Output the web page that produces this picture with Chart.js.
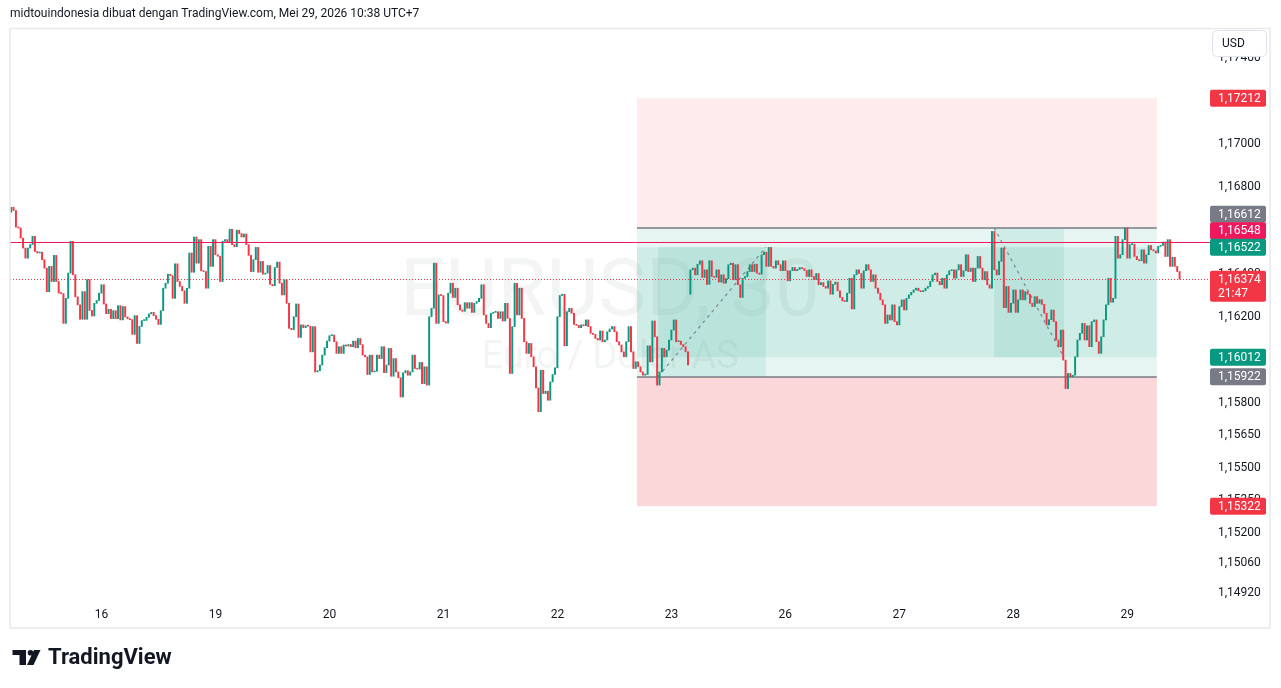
<!DOCTYPE html>
<html>
<head>
<meta charset="utf-8">
<script src="https://cdn.jsdelivr.net/npm/chart.js@4.4.1/dist/chart.umd.min.js"></script>
<style>
  html, body { margin: 0; padding: 0; background: #fff; }
  canvas { display: block; }
</style>
</head>
<body>
<canvas id="myChart" width="1281" height="688"></canvas>
<script>
// EURUSD 30m closes, one array per trading day (open of each candle = previous close)
const sessionOpens = [1.16684, 1.16304];

const fri15 = [1.16707, 1.16692, 1.16615, 1.16611, 1.16564, 1.16518, 1.16471, 1.16518, 1.16534, 1.16572,
  1.16502, 1.16495, 1.16499, 1.16464, 1.16425, 1.16316, 1.16433, 1.16363, 1.16484, 1.16363,
  1.16309, 1.16307, 1.16169, 1.16285, 1.16402, 1.16549, 1.16394, 1.16292, 1.16255, 1.16188,
  1.16316, 1.16188, 1.16372, 1.16229, 1.16203, 1.16262, 1.16275, 1.16309];
const sat16mon18 = [1.16348, 1.16259, 1.16214, 1.16234, 1.16191, 1.16228, 1.16191, 1.16251, 1.16185, 1.16247,
  1.16199, 1.16190, 1.16186, 1.16118, 1.16205, 1.16076, 1.16155, 1.16182, 1.16183, 1.16197,
  1.16213, 1.16220, 1.16205, 1.16188, 1.16164, 1.16228, 1.16332, 1.16355, 1.16397, 1.16390,
  1.16285, 1.16445, 1.16363, 1.16340, 1.16320, 1.16262, 1.16332, 1.16495, 1.16406, 1.16569,
  1.16448, 1.16557, 1.16413, 1.16409, 1.16332, 1.16526, 1.16433, 1.16557];
const tue19 = [1.16487, 1.16480, 1.16363, 1.16549, 1.16557, 1.16545, 1.16605, 1.16534, 1.16524, 1.16601,
  1.16585, 1.16569, 1.16583, 1.16534, 1.16484, 1.16409, 1.16464, 1.16521, 1.16406, 1.16456,
  1.16397, 1.16402, 1.16437, 1.16350, 1.16343, 1.16428, 1.16453, 1.16355, 1.16301, 1.16371,
  1.16262, 1.16146, 1.16140, 1.16200, 1.16259, 1.16104, 1.16162, 1.16149, 1.16158, 1.16156,
  1.16037, 1.16154, 1.15944, 1.15950, 1.15976, 1.16022, 1.16056, 1.16087];
const wed20 = [1.16112, 1.16115, 1.16084, 1.16030, 1.16061, 1.16030, 1.16069, 1.16064, 1.16071, 1.16061,
  1.16087, 1.16056, 1.16099, 1.16071, 1.16022, 1.16014, 1.15932, 1.16022, 1.15944, 1.15947,
  1.16022, 1.16006, 1.16061, 1.15941, 1.15976, 1.16053, 1.15924, 1.16006, 1.15944, 1.15917,
  1.15828, 1.15940, 1.15950, 1.15929, 1.15944, 1.16022, 1.15960, 1.15957, 1.15988, 1.15890,
  1.15968, 1.15883, 1.16200, 1.16239, 1.16448, 1.16169, 1.16301, 1.16298];
const thu21 = [1.16177, 1.16170, 1.16309, 1.16355, 1.16289, 1.16332, 1.16255, 1.16231, 1.16225, 1.16265,
  1.16239, 1.16265, 1.16220, 1.16262, 1.16270, 1.16285, 1.16348, 1.16208, 1.16169, 1.16149,
  1.16216, 1.16220, 1.16223, 1.16192, 1.16223, 1.16180, 1.16262, 1.16192, 1.15937, 1.16154,
  1.16355, 1.16208, 1.16332, 1.16192, 1.16084, 1.16030, 1.16076, 1.16014, 1.15968, 1.15870,
  1.15760, 1.15952, 1.15844, 1.15855, 1.15813, 1.15898, 1.15932, 1.15963];
const fri22 = [1.16200, 1.16298, 1.16304, 1.16065, 1.16223, 1.16239, 1.16216, 1.16164, 1.16160, 1.16149,
  1.16162, 1.16158, 1.16185, 1.16154, 1.16123, 1.16118, 1.16099, 1.16092, 1.16134, 1.16084,
  1.16092, 1.16130, 1.16143, 1.16154, 1.16130, 1.16084, 1.16069, 1.16037, 1.16014, 1.16084,
  1.16154, 1.16037, 1.15960, 1.15991, 1.15968, 1.15944, 1.15929, 1.15932, 1.16065, 1.15991,
  1.16180, 1.16107, 1.15883, 1.15944, 1.16053, 1.16014, 1.16045, 1.16092, 1.16138, 1.16185,
  1.16084, 1.16087, 1.16071, 1.16061, 1.16037, 1.15976];
const mon25 = [1.16417, 1.16425, 1.16394, 1.16443, 1.16459, 1.16382, 1.16417, 1.16350, 1.16459, 1.16386,
  1.16382, 1.16417, 1.16360, 1.16394, 1.16355, 1.16376, 1.16441, 1.16448, 1.16371, 1.16441,
  1.16348, 1.16289, 1.16378, 1.16386, 1.16409, 1.16441, 1.16409, 1.16443, 1.16402, 1.16397,
  1.16487, 1.16499, 1.16433, 1.16521, 1.16433, 1.16425, 1.16459, 1.16441, 1.16413, 1.16459];
const tue26 = [1.16413, 1.16366, 1.16413, 1.16428, 1.16413, 1.16419, 1.16428, 1.16423, 1.16414, 1.16386,
  1.16417, 1.16386, 1.16372, 1.16400, 1.16348, 1.16358, 1.16340, 1.16332, 1.16366, 1.16304,
  1.16350, 1.16360, 1.16320, 1.16289, 1.16273, 1.16270, 1.16309, 1.16378, 1.16236, 1.16394,
  1.16417, 1.16400, 1.16332, 1.16413, 1.16441, 1.16417, 1.16363, 1.16394, 1.16332, 1.16309,
  1.16278, 1.16255, 1.16169, 1.16208, 1.16185, 1.16255, 1.16177, 1.16162];
const wed27 = [1.16247, 1.16278, 1.16231, 1.16285, 1.16301, 1.16313, 1.16324, 1.16332, 1.16320, 1.16316,
  1.16320, 1.16332, 1.16340, 1.16363, 1.16394, 1.16402, 1.16363, 1.16348, 1.16378, 1.16332,
  1.16394, 1.16413, 1.16417, 1.16378, 1.16417, 1.16441, 1.16386, 1.16413, 1.16487, 1.16409,
  1.16425, 1.16363, 1.16425, 1.16479, 1.16425, 1.16371, 1.16409, 1.16348, 1.16332, 1.16595,
  1.16417, 1.16394, 1.16456, 1.16518, 1.16242, 1.16340, 1.16220, 1.16262];
const thu28 = [1.16324, 1.16220, 1.16278, 1.16324, 1.16278, 1.16316, 1.16304, 1.16262, 1.16247, 1.16293,
  1.16262, 1.16279, 1.16257, 1.16216, 1.16162, 1.16186, 1.16231, 1.16177, 1.16092, 1.16061,
  1.16138, 1.15999, 1.15867, 1.15937, 1.15921, 1.15929, 1.16014, 1.16092, 1.16123, 1.16169,
  1.16092, 1.16158, 1.16061, 1.16177, 1.16185, 1.16084, 1.16030, 1.16107, 1.16185, 1.16255,
  1.16378, 1.16267, 1.16285, 1.16572, 1.16471, 1.16487, 1.16557, 1.16611];
const fri29 = [1.16471, 1.16534, 1.16536, 1.16479, 1.16464, 1.16459, 1.16510, 1.16448, 1.16487, 1.16530,
  1.16510, 1.16505, 1.16495, 1.16526, 1.16530, 1.16546, 1.16479, 1.16557, 1.16433, 1.16475,
  1.16433, 1.16409, 1.16374];

const sessions = [
  [fri15, sat16mon18, tue19, wed20, thu21, fri22],
  [mon25, tue26, wed27, thu28, fri29]
];

// time axis: bar index where each labelled day begins
const dayLabels = ['16', '19', '20', '21', '22', '23', '26', '27', '28', '29'];
const dayStartIdx = [38, 86, 134, 182, 230, 278, 326, 374, 422, 470];

const priceTicks = [1.174, 1.172, 1.170, 1.168, 1.166, 1.164, 1.162, 1.160, 1.158, 1.1565, 1.155, 1.1535, 1.152, 1.1506, 1.1492];

// drawings: horizontal line, two overlapping position tools
const hLine = 1.16548;
const lastPrice = 1.16374;
const countdown = '21:47';
const zoneTop = 1.17212;
const upperEntry = 1.16612;
const innerTop = 1.16522;
const innerBottom = 1.16012;
const lowerEntry = 1.15922;
const zoneBottom = 1.15322;
const tradeSpan = [263.5, 482.4];   // bar indexes
const leftLeg = [272.4, 317.8];
const rightLeg = [413.9, 443.3];

const FONT = "Roboto, 'Liberation Sans', sans-serif";
const fmt = v => v.toFixed(5).replace('.', ',');

const candles = [];
let idx = 0;
sessions.forEach((days, s) => {
  let prev = sessionOpens[s];
  days.flat().forEach(c => {
    candles.push({ x: idx++, y: [prev, c] });
    prev = c;
  });
});

const overlay = {
  id: 'overlay',
  beforeDatasetsDraw(chart) {
    const { ctx, chartArea: a, scales: { x, y } } = chart;
    ctx.save();
    ctx.beginPath();
    ctx.rect(a.left, a.top, a.width, a.height);
    ctx.clip();

    // watermark
    const cx = (a.left + a.right) / 2, cy = (a.top + a.bottom) / 2;
    ctx.fillStyle = 'rgba(42,46,57,0.055)';
    ctx.textAlign = 'center';
    ctx.textBaseline = 'alphabetic';
    ctx.font = '80px ' + FONT;
    ctx.fillText('EURUSD, 30', cx + 5, cy + 1);
    ctx.font = '38px ' + FONT;
    ctx.fillText('Euro / Dolar AS', cx + 5, cy + 54);

    const box = (i0, i1, p0, p1, color) => {
      const X0 = x.getPixelForValue(i0), X1 = x.getPixelForValue(i1);
      const Y0 = y.getPixelForValue(p0), Y1 = y.getPixelForValue(p1);
      ctx.fillStyle = color;
      ctx.fillRect(X0, Y0, X1 - X0, Y1 - Y0);
    };
    const teal = 'rgba(8,153,129,0.1)';
    box(tradeSpan[0], tradeSpan[1], zoneTop, upperEntry, 'rgba(242,54,69,0.1)');
    box(tradeSpan[0], tradeSpan[1], lowerEntry, zoneBottom, 'rgba(242,54,69,0.2)');
    box(tradeSpan[0], tradeSpan[1], upperEntry, lowerEntry, teal);
    box(tradeSpan[0], tradeSpan[1], innerTop, innerBottom, teal);
    box(leftLeg[0], leftLeg[1], innerTop, lowerEntry, teal);
    box(rightLeg[0], rightLeg[1], upperEntry, innerBottom, teal);

    // entry lines
    ctx.strokeStyle = '#787b86';
    ctx.lineWidth = 1.5;
    [upperEntry, lowerEntry].forEach(p => {
      const Y = Math.round(y.getPixelForValue(p));
      ctx.beginPath();
      ctx.moveTo(x.getPixelForValue(tradeSpan[0]), Y);
      ctx.lineTo(x.getPixelForValue(tradeSpan[1]), Y);
      ctx.stroke();
    });

    // dashed legs
    ctx.setLineDash([3, 4]);
    ctx.strokeStyle = 'rgba(120,123,134,0.85)';
    ctx.lineWidth = 1.3;
    ctx.beginPath();
    ctx.moveTo(x.getPixelForValue(leftLeg[0]), y.getPixelForValue(lowerEntry));
    ctx.lineTo(x.getPixelForValue(leftLeg[1]), y.getPixelForValue(innerTop));
    ctx.moveTo(x.getPixelForValue(rightLeg[0]), y.getPixelForValue(upperEntry));
    ctx.lineTo(x.getPixelForValue(rightLeg[1]), y.getPixelForValue(innerBottom));
    ctx.stroke();
    ctx.restore();
  },
  afterDatasetsDraw(chart) {
    const { ctx, chartArea: a, scales: { y } } = chart;
    ctx.save();
    let Y = Math.round(y.getPixelForValue(hLine)) + 0.5;
    ctx.strokeStyle = '#f0185c';
    ctx.lineWidth = 1;
    ctx.beginPath();
    ctx.moveTo(a.left, Y);
    ctx.lineTo(a.right + 10, Y);
    ctx.stroke();

    Y = Math.round(y.getPixelForValue(lastPrice)) + 0.5;
    ctx.strokeStyle = '#f23645';
    ctx.setLineDash([1, 2]);
    ctx.beginPath();
    ctx.moveTo(a.left, Y);
    ctx.lineTo(a.right + 10, Y);
    ctx.stroke();
    ctx.restore();
  },
  afterDraw(chart) {
    const { ctx, chartArea: a, scales: { y } } = chart;
    ctx.save();

    // pane border
    ctx.strokeStyle = '#e9e9ec';
    ctx.lineWidth = 1.5;
    ctx.strokeRect(10, 28.5, 1260, 599.5);

    // price tags on the axis
    const H = 17;
    const tags = [
      { p: zoneTop, color: '#f23645' },
      { p: upperEntry, color: '#787b86' },
      { p: hLine, color: '#f0185c' },
      { p: innerTop, color: '#089981' },
      { p: lastPrice, color: '#f23645', sub: countdown },
      { p: innerBottom, color: '#089981' },
      { p: lowerEntry, color: '#787b86' },
      { p: zoneBottom, color: '#f23645' }
    ].map(t => ({ ...t, y: y.getPixelForValue(t.p) }));
    tags.sort((m, n) => m.y - n.y);
    for (let k = tags.length - 2; k >= 0; k--) {
      const bottom = tags[k].y - H / 2 + (tags[k].sub ? 31 : H);
      const limit = tags[k + 1].y - H / 2 + 0.5;
      if (bottom > limit) tags[k].y -= bottom - limit;
    }
    ctx.font = '12px ' + FONT;
    ctx.textBaseline = 'middle';
    ctx.textAlign = 'left';
    tags.forEach(t => {
      const h = t.sub ? 31 : H;
      ctx.fillStyle = t.color;
      ctx.beginPath();
      ctx.roundRect(a.right + 10, t.y - H / 2, 56, h, 2);
      ctx.fill();
      ctx.fillStyle = '#ffffff';
      ctx.fillText(fmt(t.p), a.right + 18, t.y + 0.5);
      if (t.sub) ctx.fillText(t.sub, a.right + 18, t.y + 14.5);
    });

    // currency button
    ctx.fillStyle = '#ffffff';
    ctx.strokeStyle = '#e0e3eb';
    ctx.lineWidth = 1;
    ctx.beginPath();
    ctx.roundRect(1212.5, 30.5, 54, 26, 4);
    ctx.fill();
    ctx.stroke();
    ctx.fillStyle = '#131722';
    ctx.fillText('USD', 1222, 44);

    // header
    ctx.font = '12px ' + FONT;
    ctx.fillText('midtouindonesia dibuat dengan TradingView.com, Mei 29, 2026 10:38 UTC+7', 10, 14);

    // footer logo
    ctx.fillStyle = '#131722';
    ctx.fillRect(12.5, 650, 13, 5);
    ctx.fillRect(19.5, 650, 6.5, 15);
    ctx.beginPath();
    ctx.arc(30.5, 652.8, 2.8, 0, Math.PI * 2);
    ctx.fill();
    ctx.beginPath();
    ctx.moveTo(34, 650);
    ctx.lineTo(40.5, 650);
    ctx.lineTo(33.5, 665);
    ctx.lineTo(27, 665);
    ctx.closePath();
    ctx.fill();
    ctx.font = 'bold 22px ' + FONT;
    ctx.fillText('TradingView', 48, 658);
    ctx.restore();
  }
};

const chartRef = document.getElementById('myChart').getContext('2d');
new Chart(chartRef, {
  type: 'bar',
  data: {
    datasets: [{
      data: candles,
      backgroundColor: c => (c.raw && c.raw.y[1] >= c.raw.y[0]) ? '#089981' : '#f23645',
      barThickness: 1.3,
      minBarLength: 1,
      borderWidth: 0
    }]
  },
  options: {
    responsive: false,
    animation: false,
    devicePixelRatio: 1,
    layout: { padding: { left: 10, top: 28, right: 11, bottom: 60 } },
    plugins: { legend: { display: false }, tooltip: { enabled: false } },
    scales: {
      x: {
        type: 'linear',
        min: -0.5,
        max: 500.6,
        offset: false,
        grid: { display: false, drawTicks: false },
        border: { display: false },
        afterBuildTicks: s => { s.ticks = dayStartIdx.map(v => ({ value: v })); },
        afterFit: s => { s.height = 28; },
        ticks: {
          autoSkip: false,
          maxRotation: 0,
          padding: 8,
          color: '#131722',
          font: { family: FONT, size: 12 },
          callback: (v, i) => dayLabels[i]
        }
      },
      y: {
        position: 'right',
        min: 1.148875,
        max: 1.175374,
        grid: { display: false, drawTicks: false },
        border: { display: false },
        afterBuildTicks: s => { s.ticks = priceTicks.map(v => ({ value: v })); },
        afterFit: s => { s.width = 70; },
        ticks: {
          padding: 18,
          color: '#131722',
          font: { family: FONT, size: 12 },
          callback: v => fmt(v)
        }
      }
    }
  },
  plugins: [overlay]
});
</script>
</body>
</html>
